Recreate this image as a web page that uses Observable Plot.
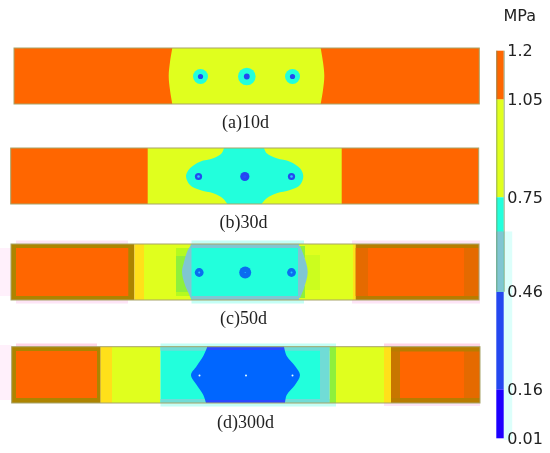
<!DOCTYPE html>
<html>
<head>
<meta charset="utf-8">
<script src="https://cdn.jsdelivr.net/npm/d3@7"></script>
<script src="https://cdn.jsdelivr.net/npm/@observablehq/plot@0.6"></script>
<style>
html,body{margin:0;padding:0;background:#fff}
#wrap{position:relative;width:550px;height:453px;overflow:hidden}
#wrap svg{position:absolute;top:0;background:transparent;filter:blur(0.35px)}
</style>
</head>
<body>
<div id="wrap"></div>
<script>
// Stress classes and their colours (class names are not CSS colours, so they go through the colour scale)
const levels = ["sOrange","sYellow","sCyan","sBlue","sNavy","sGreyblue","sGreyLight","sOlive","sBrown","sBrownSoft","sDarkorange","sAmber","sLime","sLime2","sLimeSoft","sPinkHalo","sPinkLight","sPinkDeep","sCyanHalo","sDeepBlue","sSpot","sWhite","sRingBlue","sRingBlue2"];
const levelColors = ["#ff6600","#e0ff1e","#22ffdc","#0066ff","#1c00ff","#80c6d2","#70dcd6","#ad8400","#b87c00","#c87600","#e56a00","#ffe01a","#b4fa20","#8ef03c","#ccfd1e","#fde4f6","#fff0fb","#ffd4e6","#c4fff6","#2a4aff","#27c8ff","#e8ffff","#0a6cf0","#2448f0"];

const legendTicks = [1.2, 1.05, 0.75, 0.46, 0.16, 0.01];
const legendLow  = [1.05, 0.75, 0.46, 0.16, 0.01];
const legendHigh = [1.2, 1.05, 0.75, 0.46, 0.16];
const legendLevels = ["sOrange","sYellow","sCyan","sRingBlue2","sNavy"];

const captions = ["(a)10d","(b)30d","(c)50d","(d)300d"];
const captionX = [245, 243, 243, 245];
const captionY = [127, 227, 323, 427];

// Background bands of each beam: [x1, x2, y1, y2, class]
const bandsA = [
  [14,479.3,48,104,"sOrange"]
];
const bandsB = [
  [10.7,478.7,148,204,"sOrange"],
  [147.7,341.7,148,204,"sYellow"]
];
const bandsC = [
  [16,128,240.5,303.5,"sPinkHalo"],
  [0,11,248,296,"sPinkLight"],
  [352,480,240.5,303.5,"sPinkHalo"],
  [191.5,304,240.5,303.5,"sCyanHalo"],
  [11,134.5,244,300,"sOlive"],
  [16,128.3,248,296,"sOrange"],
  [134.5,144,244,300,"sAmber"],
  [144,355.7,244,300,"sYellow"],
  [176,192,248,296,"sLime"],
  [176,192,256,292,"sLime2"],
  [304,320,255,290,"sLimeSoft"],
  [299,305,246,258,"sLime2"],
  [299,305,286,298,"sLime2"],
  [353,355.7,244,300,"sAmber"],
  [355.7,479,244,300,"sBrown"],
  [355.7,368,248,296,"sDarkorange"],
  [368,464,248,296,"sOrange"],
  [464,479,248,296,"sDarkorange"]
];
const bandsD = [
  [0,11.7,345,400,"sPinkLight"],
  [16,97,343.5,346.7,"sPinkDeep"],
  [384,480,343.5,346.7,"sPinkDeep"],
  [384,480,403,406,"sPinkHalo"],
  [160.5,336,343.5,406.5,"sCyanHalo"],
  [11.7,100.7,346.7,403,"sOlive"],
  [16,97,351,398,"sOrange"],
  [100.7,112,346.7,403,"sAmber"],
  [112,160.5,346.7,403,"sYellow"],
  [160.5,320,346.7,403,"sCyan"],
  [160.5,207,346.7,350.7,"sGreyLight"],
  [160.5,207,399,403,"sGreyLight"],
  [284,329.7,346.7,350.7,"sGreyLight"],
  [284,329.7,399,403,"sGreyLight"],
  [320,329.7,346.7,403,"sGreyLight"],
  [329.7,336,346.7,403,"sLime2"],
  [336,384,346.7,403,"sYellow"],
  [384,391,346.7,403,"sAmber"],
  [391,480,346.7,403,"sBrown"],
  [391,400,351.5,398,"sBrownSoft"],
  [400,464,351.5,398,"sOrange"],
  [464,480,351.5,398,"sDarkorange"]
];
const bandsCCyan = [
  [191.5,299,244,300,"sCyan"],
  [191.5,299,244,248,"sGreyblue"],
  [191.5,299,296,300,"sGreyblue"]
];
const bandsDTop = [
  [207,284,346.7,350,"sDeepBlue"],
  [206,285,400,403,"sDeepBlue"]
];

// Contours: y with the left and right edge of each region at that y
const regionA = {id:"a", level:"sYellow",
  y:[48,62,76,90,104], left:[172.3,170,168.7,170,172.3], right:[320.7,323,324.3,323,320.7]};
const regionB = {id:"b", level:"sCyan",
  y:[148,153.3,158.3,161.7,168.3,176,185,190,193.3,198.3,204],
  left:[224,221.7,213.3,200,190,186,190,200,213.3,222.7,227.3],
  right:[264,266.7,276.7,290,300,303.3,300,290,276.7,266.7,261.7]};
const regionCL = {id:"cl", level:"sGreyblue",
  y:[244,252,262,272,285,292,300], left:[191.5,187,184,182,185,188,191.5], right:[192,192,192,192,192,192,192]};
const regionCR = {id:"cr", level:"sGreyblue",
  y:[246,256,272,288,298], left:[298,298,298,298,298], right:[300,304,307.7,304,300]};
const regionD = {id:"d", level:"sBlue",
  y:[346.7,356,366,375,385,395,403], left:[207.3,203.3,196.7,191,196.7,203.3,206], right:[284,286.7,295,300,295,286.7,285]};

// Bolt holes: x, y, r, class for every concentric ring
const holeX = [200,246.3,292, 198,244.3,291, 198.7,244.7,291, 199,245.5,292];
const holeY = [76,76,76, 176,176,176, 272,272,272, 375,375,375];
const holeOuterR = [7.5,8.8,7.5, 3.6,4.6,3.6, 4.4,6,4.4, 1,1,1];
const holeOuterLevel = ["sCyan","sCyan","sCyan","sRingBlue2","sRingBlue2","sRingBlue2","sRingBlue","sRingBlue","sRingBlue","sWhite","sWhite","sWhite"];
const holeInnerR = [2.6,2.9,2.6, 1.3,1.6,1.3, 1,0.6,1, 0,0,0];
const holeInnerLevel = ["sRingBlue2","sRingBlue2","sRingBlue2","sSpot","sDeepBlue","sSpot","sSpot","sSpot","sSpot","sWhite","sWhite","sWhite"];

const frames = [
  [14,479.3,48,104],[10.7,478.7,148,204],[11,479,244,300],[11.7,480,346.7,403]
];

const toRects = a => a.map(([x1,x2,y1,y2,level]) => ({x1,x2,y1,y2,level}));
const toArea = r => r.y.map((y,i) => ({id:r.id, level:r.level, y, x1:r.left[i], x2:r.right[i]}));
const holes = (rs, ls) => holeX.map((x,i) => ({x, y:holeY[i], r:rs[i], level:ls[i]})).filter(d => d.r > 0);

const rectMark = a => Plot.rect(toRects(a), {x1:"x1",x2:"x2",y1:"y1",y2:"y2",fill:"level"});
const areaMark = r => Plot.areaX(toArea(r), {x1:"x1",x2:"x2",y:"y",z:"id",fill:"level",curve:"catmull-rom"});

const colorScale = {type:"ordinal", domain:levels, range:levelColors};

const field = Plot.plot({
  width:550, height:453, margin:0,
  x:{domain:[0,550], range:[0,550], axis:null},
  y:{domain:[0,453], range:[0,453], axis:null},
  color:colorScale,
  r:{type:"identity"},
  marks:[
    rectMark(bandsA), areaMark(regionA),
    rectMark(bandsB), areaMark(regionB),
    rectMark(bandsC), areaMark(regionCL), rectMark(bandsCCyan), areaMark(regionCR),
    rectMark(bandsD), areaMark(regionD), rectMark(bandsDTop),
    Plot.dot(holes(holeOuterR, holeOuterLevel), {x:"x",y:"y",r:"r",fill:"level"}),
    Plot.dot(holes(holeInnerR, holeInnerLevel), {x:"x",y:"y",r:"r",fill:"level"}),
    Plot.rect(frames.map(([x1,x2,y1,y2]) => ({x1,x2,y1,y2})), {x1:"x1",x2:"x2",y1:"y1",y2:"y2",fill:"none",stroke:"#a8a468",strokeWidth:1}),
    Plot.text(captions, {x:(d,i)=>captionX[i], y:(d,i)=>captionY[i], text:d=>d, fontSize:18, fontFamily:"Liberation Serif", fill:"#222", textAnchor:"middle", lineAnchor:"bottom"}),
    Plot.text(["MPa"], {x:()=>503, y:()=>15, text:d=>d, fontSize:16, fontFamily:"DejaVu Sans", fill:"#222", textAnchor:"start", lineAnchor:"middle"})
  ]
});

const legend = Plot.plot({
  width:60, height:453,
  marginLeft:6.3, marginRight:46.3, marginTop:50.7, marginBottom:14.7,
  x:{domain:[0,1], axis:null},
  y:{domain:[0.01,1.2], axis:null},
  color:colorScale,
  marks:[
    Plot.rect([0], {x1:()=>1, x2:()=>2.15, y1:()=>0.005, y2:()=>0.645, fill:"#dcfffb"}),
    Plot.rect(legendLow, {x1:()=>0, x2:()=>1, y1:d=>d, y2:(d,i)=>legendHigh[i], fill:(d,i)=>legendLevels[i]}),
    Plot.rect([0], {x1:()=>0, x2:()=>1, y1:()=>0.46, y2:()=>0.645, fill:()=>"sGreyblue"}),
    Plot.ruleX([0,1], {y1:()=>0.46, y2:()=>1.2, stroke:"#6f8a58", strokeOpacity:0.7}),
    Plot.axisY(legendTicks, {anchor:"right", label:null, tickSize:0, tickPadding:3, tickFormat:d=>String(d), fontSize:16, fontFamily:"DejaVu Sans", fill:"#222"})
  ]
});
legend.style.left = "490px";

const wrap = document.getElementById("wrap");
wrap.appendChild(field);
wrap.appendChild(legend);
</script>
</body>
</html>
